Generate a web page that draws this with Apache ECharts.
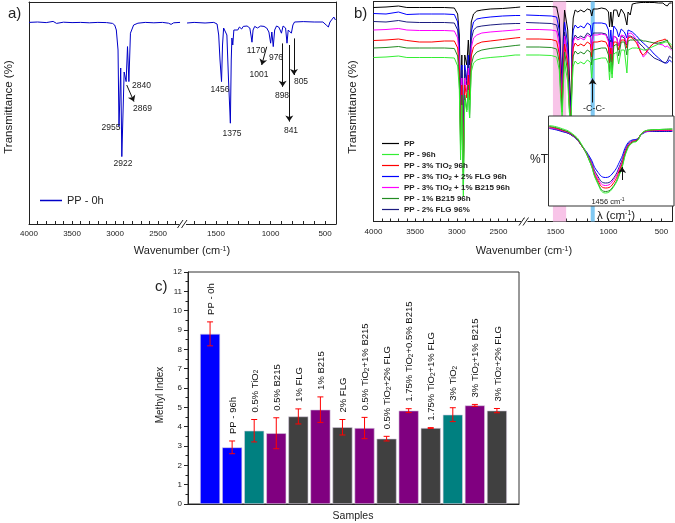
<!DOCTYPE html>
<html><head><meta charset="utf-8">
<script src="https://cdn.jsdelivr.net/npm/echarts@6/dist/echarts.min.js"></script>
<style>html,body{margin:0;padding:0;background:#fff}#c{width:675px;height:523px}</style>
</head><body><div id="c"></div>
<script>
// ---------- Panel a data (PP - 0h) ----------
const aLeftWn = [4000,3900,3800,3720,3680,3600,3500,3400,3300,3200,3100,3030,3005,2986,2966,2955,2935,2922,2895,2872,2856,2840,2822,2785,2735,2650,2550,2450,2380,2350,2320,2246];
const aLeftT  = [90.8,91.0,90.7,91.3,90.3,90.9,90.7,90.8,90.6,90.8,90.7,90.3,89.5,87,77,38.7,68,23.7,66,61.2,78.7,61.2,85.4,89.5,90.4,90.8,90.6,90.8,90.4,89.8,90.6,90.8];
const aRightWn = [1765,1700,1600,1520,1490,1475,1463,1449,1440,1430,1415,1400,1385,1368,1360,1354,1346,1336,1320,1300,1285,1265,1250,1235,1215,1190,1178,1170,1160,1145,1120,1104,1090,1060,1035,1015,999,988,975,962,945,925,912,900,885,862,849,838,820,809,795,780,700,600,520,490,470,455,440,420,405];
const aRightT  = [90.5,90.8,90.5,90.8,90,84.5,72,61.2,79.5,88,88.5,84.5,62,40.4,72,83,79.5,87,88,87,88.5,87.5,88.8,87.8,89,88,84,80.9,87,88.8,88,87.5,89,88.8,88,86,80.4,86,78.7,87,89,88.5,87,85.4,89,88,80.4,87,88,85.4,89.5,91,91.2,91,91,89.5,88.5,91,92,93.5,92];
const aPeakLabels = ['2955','2922','2840','2869','1456','1375','1170','976','1001','898','805','841'];

// ---------- Panel b data ----------
const bNames = ['PP','PP - 96h','PP - 3% TiO2 96h','PP - 3% TiO2 + 2% FLG 96h','PP - 3% TiO2 + 1% B215 96h','PP - 1% B215 96h','PP - 2% FLG 96%'];
const bLeftWn = [4000,3850,3700,3600,3450,3300,3150,3030,2990,2970,2955,2940,2922,2905,2880,2862,2847,2827,2800,2760,2700,2600,2450,2300,2240];
const bLeftPP      = [97,97.25,97.75,97,97,97,97,96.75,93.75,83.25,45.75,73.25,30.75,73.25,68.25,80.75,68.25,89.75,93.75,95.25,95.75,96.25,96.5,97,97.25];
const bLeftTiFLG   = [94,93.75,94.75,93.5,93.75,93.75,93.75,93.5,89.75,78.25,38.25,68.25,20.75,68.25,60.75,73.25,58.25,84.75,89.75,91.25,91.75,92.25,92.75,93,93];
const bLeftFLG     = [90,89.75,90.5,89.75,89.5,89.5,89.5,89.25,85.75,74.75,35.75,65.75,18.25,65.75,58.25,70.75,55.75,80.75,85.75,87.25,87.75,88.25,88.75,89,89];
const bLeftTiB215  = [85.75,86,86.5,85.75,85.5,85.5,85.5,85.25,81.75,70.75,33.25,61.75,15.75,61.75,54.75,66.75,53.25,76.75,81.75,83.25,84.25,84.75,85.25,85.75,86];
const bLeftTi      = [80.5,80.75,81.25,80.5,79.75,79.75,80.25,80.25,76.75,65.75,30.75,58.25,14.75,58.25,51.75,63.25,50.75,72.75,77.25,78.75,79.75,80.25,81,81.75,82];
const bLeftB215    = [76.75,77,77.5,76.75,76.75,76.75,76.75,76.5,72.75,60.75,25.75,53.25,8.25,53.25,45.75,58.25,41.75,68.25,72.75,74.75,75.75,76.5,77.25,78,78.25];
const bLeftPP96    = [72,72.25,72.75,72,72,72,72,71.75,67.75,55.75,20.75,48.25,2.25,50.75,44.75,55.75,41.75,64.75,69.25,70.75,71.5,72,72.5,73.25,73.25];

const bRightWn = [1778,1655,1541,1490,1465,1452,1438,1428,1415,1400,1385,1370,1354,1344,1333,1315,1290,1262,1231,1200,1172,1158,1145,1107,1065,1024,1000,990,978,966,950,922,904,880,850,826,815,795,775,734,693,672,651,610,569,527,486,465,445,424,403];
const bRightPP     = [97.5,97.5,97.5,97.25,90.75,73.25,58.25,80.75,95.75,96.25,85.75,63.25,45.75,80.75,91.75,95.75,94.75,95.75,94.75,96.25,95.75,92.75,96.25,96.25,96.75,96.25,94.75,87.25,94.75,87.25,95.75,95.75,92.25,96.25,93.75,88.25,94.75,93.25,98.75,99.25,99.5,99.5,99.5,99.5,99.5,99.25,99.25,98.25,97.75,99.25,99.25];
const bRightTiFLG  = [93.25,93,92.75,92.25,85.75,70.75,53.25,74.75,89.75,90.75,78.25,55.75,40.75,75.75,85.75,88.25,86.75,87.75,86.75,89.25,88.25,82.75,89.25,89.25,89.25,88.75,85.75,77.25,85.75,77.25,87.75,85.75,82.25,86.25,84.75,81.75,85.75,85.25,84.75,82.75,80.25,79.25,78.25,76.25,73.75,71.75,69.75,69.25,69.25,70.75,69.75];
const bRightFLG    = [89.5,89.25,89,88.25,81.75,66.75,50.75,70.75,84.75,85.75,73.25,50.75,38.25,70.75,80.75,83.25,81.75,82.75,81.75,84.25,83.25,76.75,84.25,84.25,84.25,83.75,80.75,73.25,80.75,72.25,82.75,81.75,77.75,82.75,81.75,78.25,82.75,82.75,82.25,80.75,78.25,77.25,75.75,73.75,71.75,70.75,69.75,69.25,70.25,72.75,71.75];
const bRightTiB215 = [86,86,85.75,85.25,78.25,63.25,48.25,68.25,82.75,83.75,71.75,49.75,38.25,69.75,79.75,82.25,80.75,81.75,80.75,83.25,82.25,75.75,83.25,83.25,83.75,83.25,79.75,71.75,79.75,70.75,82.75,81.75,77.75,83.25,82.75,78.75,83.75,84.25,83.75,80.75,74.75,72.25,73.25,77.25,79.25,78.75,78.25,77.25,77.75,76.75,75.75];
const bRightTi     = [81.25,81.25,81,80.25,73.75,59.75,46.75,64.75,78.75,79.75,68.25,48.25,39.75,66.75,76.75,79.25,77.75,78.75,77.75,79.75,78.75,72.25,79.75,79.75,80.25,79.75,76.75,69.25,76.75,68.25,79.75,79.75,75.75,80.75,80.75,76.75,81.75,82.25,81.75,79.25,74.25,73.25,74.25,77.25,79.25,80.25,80.75,81.25,80.25,78.25,77.25];
const bRightB215   = [77.25,77.25,77,76.25,69.75,55.75,44.75,60.75,74.75,75.75,64.75,46.75,39.75,63.25,72.75,75.25,73.75,74.75,73.75,75.75,74.75,68.25,75.75,76.25,76.75,76.75,73.25,64.75,73.75,63.75,77.75,78.75,72.75,79.75,79.75,73.25,80.25,80.75,80.75,80.75,80.75,80.25,80.25,79.75,79.25,79.25,79.75,80.25,80.75,78.25,76.25];
const bRightPP96   = [73.25,73.25,73,72.25,65.75,51.75,41.75,55.75,69.75,70.75,59.75,44.75,38.25,58.25,67.75,70.25,68.75,69.75,68.75,70.75,69.75,61.75,70.75,71.25,71.75,71.75,68.75,60.75,69.75,61.75,73.75,74.75,68.75,75.75,75.75,64.25,75.75,76.25,76.75,76.75,76.25,75.75,75.75,76.75,77.75,78.75,79.25,79.75,79.75,79.25,78.25];

// inset (1456 cm-1 band)
const insetWn = [1523,1510,1495,1484,1474,1466,1456,1448,1438,1430,1424,1418,1412,1403,1391,1376];
const insetPP96   = [40.25,39,36,30.5,21.5,12,6.5,8.5,17,28,31.5,32.5,36.5,38,38.25,38.5];
const insetB215   = [39.75,38.5,35.5,30,21.5,12.5,7.25,9,17.5,28.5,31.75,32.75,36.5,38,38.25,38.5];
const insetTi     = [39.5,38.25,35.5,30,22,13.5,9,10.5,19,29,32,33,36.5,37.75,38,38];
const insetTiB215 = [39,38,35.25,30,22.5,14.5,10.25,12,20,29.5,32.25,33,36.25,37.5,37.75,37.75];
const insetFLG    = [39,37.75,35,30,23,15.5,11.5,13,21,30,32.5,33.25,36.25,37.5,37.5,37.5];
const insetTiFLG  = [38.75,37.5,35,30,24,17.5,14.25,16,23,31,33,33.5,36,37.25,37.25,37.25];

// ---------- Panel c data ----------
const cSamples = ['PP - 0h','PP - 96h','0.5% TiO2','0.5% B215','1% FLG','1% B215','2% FLG','0.5% TiO2+1% B215','0.5% TiO2+2% FLG','1.75% TiO2+0.5% B215','1.75% TiO2+1% FLG','3% TiO2','3% TiO2+1% B215','3% TiO2+2% FLG'];
const cValues  = [8.8,2.93,3.79,3.66,4.53,4.88,3.97,3.93,3.38,4.83,3.93,4.62,5.1,4.83];
const cErrors  = [0.62,0.33,0.58,0.8,0.39,0.66,0.4,0.55,0.12,0.1,0.02,0.36,0.05,0.11];

// ---------- styles ----------
const F = '"Liberation Sans", Arial, sans-serif';
const FN = 'Liberation Sans';
const barColors = ['#0000ff','#0000ff','#008080','#800080','#404040','#800080','#404040','#800080','#404040','#800080','#404040','#008080','#800080','#404040'];
const bStyle = {
  'PP':'#000000','PP - 96h':'#33ee33','PP - 3% TiO2 96h':'#ff0000','PP - 3% TiO2 + 2% FLG 96h':'#0000ff',
  'PP - 3% TiO2 + 1% B215 96h':'#ff00ff','PP - 1% B215 96h':'#228b22','PP - 2% FLG 96%':'#1c1c80'
};
const zip = (xs, ys) => xs.map((x, i) => [x, ys[i]]);

const bSets = [
  {name: bNames[0], l: bLeftPP, r: bRightPP, i: null},
  {name: bNames[3], l: bLeftTiFLG, r: bRightTiFLG, i: insetTiFLG},
  {name: bNames[6], l: bLeftFLG, r: bRightFLG, i: insetFLG},
  {name: bNames[4], l: bLeftTiB215, r: bRightTiB215, i: insetTiB215},
  {name: bNames[2], l: bLeftTi, r: bRightTi, i: insetTi},
  {name: bNames[5], l: bLeftB215, r: bRightB215, i: insetB215},
  {name: bNames[1], l: bLeftPP96, r: bRightPP96, i: insetPP96}
];

const AX = '#222';
function specX(gi, min, max) {
  return {type:'value', gridIndex:gi, min, max, inverse:true, interval:100,
    axisLine:{show:true, onZero:false, lineStyle:{color:AX, width:1}},
    axisTick:{show:true, inside:true, length:3, lineStyle:{color:AX}},
    axisLabel:{show:true, fontSize:8, color:AX, fontFamily:F, margin:6, showMinLabel:true, showMaxLabel:true,
      formatter: v => (v % 500 === 0 ? String(v) : '')},
    splitLine:{show:false}};
}
function topX(gi) {
  return {type:'value', gridIndex:gi, position:'top', min:0, max:1,
    axisLine:{show:true, onZero:false, lineStyle:{color:AX, width:1}},
    axisTick:{show:false}, axisLabel:{show:false}, splitLine:{show:false}};
}
function specY(gi, min, max, pos) {
  return {type:'value', gridIndex:gi, min, max, position:pos,
    axisLine:{show:true, onZero:false, lineStyle:{color:AX, width:1}},
    axisTick:{show:false}, axisLabel:{show:false}, splitLine:{show:false}};
}
function txt(x, y, text, size, o) {
  o = o || {};
  const el = {type:'text', x, y, z:100, silent:true,
    style:{text, fontSize:size, fontFamily:FN, fontWeight:o.weight || 'normal', fill:o.fill || '#222',
      textAlign:o.align || 'center', textVerticalAlign:o.valign || 'middle', align:o.align || 'center', verticalAlign:o.valign || 'middle'}};
  if (o.rich) el.style.rich = o.rich;
  if (o.rotation) el.rotation = o.rotation;
  return el;
}
const supRich = s => ({sup:{fontSize:s, fontFamily:FN, fill:'#222', verticalAlign:'top', lineHeight:s}});

const arrowLine = {silent:true, symbol:['none','arrow'], symbolSize:6, animation:false,
  lineStyle:{color:'#111', width:1, type:'solid'}, label:{show:false}, emphasis:{disabled:true}};

const series = [];
// Panel a
series.push({type:'line', name:'PP - 0h', xAxisIndex:0, yAxisIndex:0, data:zip(aLeftWn, aLeftT), symbol:'none',
  lineStyle:{color:'#0000c8', width:1}, itemStyle:{color:'#0000c8'},
  markLine:Object.assign({}, arrowLine, {data:[[{coord:[2865,59.5]},{coord:[2781,51.2]}]]})});
series.push({type:'line', name:'PP - 0h', xAxisIndex:1, yAxisIndex:1, data:zip(aRightWn, aRightT), symbol:'none',
  lineStyle:{color:'#0000c8', width:1}, itemStyle:{color:'#0000c8'},
  markLine:Object.assign({}, arrowLine, {data:[
    [{coord:[1035,78.6]},{coord:[1081,69.5]}],
    [{coord:[889,80.3]},{coord:[889,58.6]}],
    [{coord:[828,79.5]},{coord:[828,41.2]}],
    [{coord:[785,82.8]},{coord:[785,64.5]}]
  ]})});
// Panel b
bSets.forEach((s, k) => {
  const c = bStyle[s.name];
  series.push({type:'line', name:s.name, xAxisIndex:2, yAxisIndex:2, data:zip(bLeftWn, s.l), symbol:'none',
    lineStyle:{color:c, width:1}, itemStyle:{color:c}});
  const r = {type:'line', name:s.name, xAxisIndex:3, yAxisIndex:3, data:zip(bRightWn, s.r), symbol:'none',
    lineStyle:{color:c, width:1}, itemStyle:{color:c}};
  if (k === 0) {
    r.markArea = {silent:true, itemStyle:{color:'#f8c4e8'}, data:[
      [{xAxis:1525},{xAxis:1400}],
      [{xAxis:1168, itemStyle:{color:'#80c8f2'}},{xAxis:1130}]
    ]};
    r.markLine = Object.assign({}, arrowLine, {data:[[{coord:[1150,49.5]},{coord:[1150,61.5]}]]});
  }
  series.push(r);
  if (s.i) {
    const ins = {type:'line', name:'inset ' + s.name, xAxisIndex:4, yAxisIndex:4, z:12, smooth:true, data:zip(insetWn, s.i), symbol:'none',
      lineStyle:{color:c, width:1}, itemStyle:{color:c}};
    if (k === 1) ins.markLine = Object.assign({}, arrowLine, {z:13, data:[[{coord:[1436,13]},{coord:[1436,19.5]}]]});
    series.push(ins);
  }
});
// Panel c
series.push({type:'bar', name:'Methyl', xAxisIndex:5, yAxisIndex:5, barWidth:20,
  data:cValues.map((v, i) => ({value:[i + 1, v], itemStyle:{color:barColors[i]}})),
  itemStyle:{borderColor:'#d6cde0', borderWidth:0.6}});
series.push({type:'custom', name:'err', xAxisIndex:5, yAxisIndex:5, z:5,
  encode:{x:0, y:1},
  data:cValues.map((v, i) => [i + 1, v, cErrors[i], i]),
  renderItem:(params, api) => {
    const x = api.value(0), v = api.value(1), e = api.value(2), idx = api.value(3);
    const hi = api.coord([x, v + e]), lo = api.coord([x, v - e]);
    const st = {stroke:'#ff0000', lineWidth:1};
    const label = cSamples[idx].replace(/TiO2/g, 'TiO{s|2}');
    return {type:'group', children:[
      {type:'line', shape:{x1:hi[0], y1:hi[1], x2:lo[0], y2:lo[1]}, style:st},
      {type:'line', shape:{x1:hi[0] - 3, y1:hi[1], x2:hi[0] + 3, y2:hi[1]}, style:st},
      {type:'line', shape:{x1:lo[0] - 3, y1:lo[1], x2:lo[0] + 3, y2:lo[1]}, style:st},
      {type:'text', x:hi[0] + 1, y:hi[1] - 7, rotation:Math.PI / 2,
        style:{text:label, fontSize:9.5, fontFamily:FN, fill:'#111', textAlign:'left', textVerticalAlign:'middle', align:'left', verticalAlign:'middle',
          rich:{s:{fontSize:6.5, fontFamily:FN, fill:'#111', verticalAlign:'bottom', lineHeight:6.5}}}}
    ]};
  }});

const graphics = [
  txt(8, 14, 'a)', 15, {align:'left'}),
  txt(354, 14, 'b)', 15, {align:'left'}),
  txt(155, 287, 'c)', 15, {align:'left'}),
  txt(8.5, 107, 'Transmittance (%)', 11.5, {rotation:Math.PI / 2}),
  txt(352.5, 107, 'Transmittance (%)', 11.5, {rotation:Math.PI / 2}),
  txt(182, 251, 'Wavenumber (cm{sup|-1})', 11, {rich:supRich(7)}),
  txt(524, 251, 'Wavenumber (cm{sup|-1})', 11, {rich:supRich(7)}),
  txt(160, 395, 'Methyl Index', 10, {rotation:Math.PI / 2}),
  txt(353, 516, 'Samples', 10.5),
  // panel a peak labels
  txt(111, 128, aPeakLabels[0], 8.5),
  txt(123, 164, aPeakLabels[1], 8.5),
  txt(141.5, 86, aPeakLabels[2], 8.5),
  txt(142.5, 108.5, aPeakLabels[3], 8.5),
  txt(220, 89.5, aPeakLabels[4], 8.5),
  txt(232, 134, aPeakLabels[5], 8.5),
  txt(256, 51, aPeakLabels[6], 8.5),
  txt(276, 58, aPeakLabels[7], 8.5),
  txt(259, 74.5, aPeakLabels[8], 8.5),
  txt(282, 96, aPeakLabels[9], 8.5),
  txt(301, 82, aPeakLabels[10], 8.5),
  txt(291, 131, aPeakLabels[11], 8.5),
  // panel b texts
  txt(594, 109, '-C-C-', 9),
  txt(539, 160, '%T', 12),
  txt(608, 201.5, '1456 cm{sup|-1}', 7.5, {rich:supRich(5)}),
  txt(597, 215.5, 'λ (cm{sup|-1})', 11.5, {align:'left', rich:supRich(7)}),
  // axis break marks
  {type:'rect', z:50, silent:true, shape:{x:179.5, y:221, width:6.5, height:6}, style:{fill:'#fff'}},
  {type:'line', z:51, silent:true, shape:{x1:177.5, y1:228, x2:183, y2:220}, style:{stroke:'#222', lineWidth:1}},
  {type:'line', z:51, silent:true, shape:{x1:181.5, y1:228, x2:187, y2:220}, style:{stroke:'#222', lineWidth:1}},
  {type:'rect', z:50, silent:true, shape:{x:521, y:218.5, width:6.5, height:6}, style:{fill:'#fff'}},
  {type:'line', z:51, silent:true, shape:{x1:519, y1:225.5, x2:524.5, y2:217.5}, style:{stroke:'#222', lineWidth:1}},
  {type:'line', z:51, silent:true, shape:{x1:523, y1:225.5, x2:528.5, y2:217.5}, style:{stroke:'#222', lineWidth:1}}
];

const option = {
  animation:false,
  backgroundColor:'#ffffff',
  textStyle:{fontFamily:F},
  grid:[
    {left:29, top:2, width:155, height:222},
    {left:184, top:2, width:152, height:222},
    {left:373.5, top:1.5, width:150, height:220},
    {left:523.5, top:1.5, width:150.5, height:220},
    {left:548.5, top:116, width:125.5, height:90, show:true, backgroundColor:'#ffffff', borderColor:'#333', borderWidth:1, z:10},
    {left:188, top:272, width:331, height:232, show:true, backgroundColor:'transparent', borderColor:'#333', borderWidth:1}
  ],
  xAxis:[
    specX(0, 2200, 4000),
    specX(1, 400, 1793),
    specX(2, 2200, 4000),
    specX(3, 400, 1803),
    {type:'value', gridIndex:4, min:1374, max:1524, inverse:true, show:false},
    {type:'value', gridIndex:5, min:0, max:15, axisLine:{show:true, onZero:false, lineStyle:{color:AX}}, axisTick:{show:false}, axisLabel:{show:false}, splitLine:{show:false}},
    topX(0), topX(1), topX(2), topX(3)
  ],
  yAxis:[
    specY(0, -10, 101, 'left'),
    specY(1, -10, 101, 'right'),
    specY(2, -10, 100, 'left'),
    specY(3, -10, 100, 'right'),
    {type:'value', gridIndex:4, min:0, max:45, show:false},
    {type:'value', gridIndex:5, min:0, max:12, interval:1,
      axisLine:{show:true, lineStyle:{color:AX}},
      axisTick:{show:true, inside:false, length:4, lineStyle:{color:AX}},
      minorTick:{show:true, splitNumber:2, length:2.5, lineStyle:{color:AX}},
      axisLabel:{fontSize:8, color:AX, fontFamily:F, margin:6},
      splitLine:{show:false}, minorSplitLine:{show:false}}
  ],
  legend:[
    {left:35, top:190, icon:'rect', itemWidth:22, itemHeight:1.5, itemGap:0, data:['PP - 0h'], selectedMode:false,
      textStyle:{fontSize:11, fontFamily:F, color:'#222'}},
    {orient:'vertical', left:377, top:133.5, icon:'rect', itemWidth:17, itemHeight:1.2, itemGap:1, data:bNames, selectedMode:false,
      formatter: n => n.replace('TiO2', 'TiO{s|2}'),
      textStyle:{fontSize:8, fontWeight:'bold', fontFamily:F, color:'#222', lineHeight:10,
        rich:{s:{fontSize:5.5, fontWeight:'bold', fontFamily:F, color:'#222', verticalAlign:'bottom', lineHeight:6}}}}
  ],
  graphic:{elements:graphics},
  series
};
const chart = echarts.init(document.getElementById('c'));
chart.setOption(option);
</script>
</body></html>
